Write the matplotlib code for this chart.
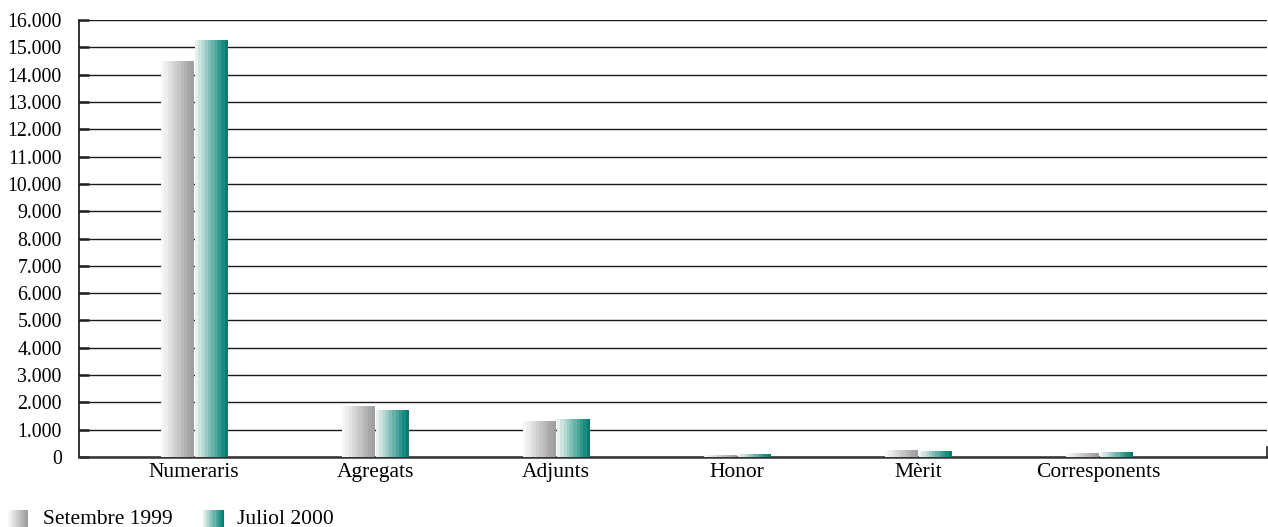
import numpy as np
import matplotlib
matplotlib.use("Agg")
import matplotlib.pyplot as plt
from matplotlib.colors import LinearSegmentedColormap

plt.rcParams['font.family'] = ['Liberation Serif', 'DejaVu Serif']

categories = ['Numeraris', 'Agregats', 'Adjunts', 'Honor', 'Mèrit', 'Corresponents']
setembre_1999 = [14500, 1870, 1320, 90, 255, 150]
juliol_2000 = [15250, 1720, 1390, 110, 220, 180]
series_names = ['Setembre 1999', 'Juliol 2000']
yticks = list(range(0, 16001, 1000))
ytick_labels = ['{:,}'.format(v).replace(',', '.') for v in yticks]

# stepped gradients, light on the left to dark on the right
gray_cmap = LinearSegmentedColormap.from_list('g', ['#f7f7f7', '#9e9e9e'])
teal_cmap = LinearSegmentedColormap.from_list('t', ['#e8f0ee', '#007f72'])
steps = np.linspace(0, 1, 10).reshape(1, -1)

W, H = 1268, 527
fig = plt.figure(figsize=(W / 100, H / 100), dpi=100)
ax = fig.add_axes([79 / W, 1 - 457 / H, (1267 - 79) / W, (457 - 20) / H])

x = np.arange(len(categories))
width = 0.177
off = 0.094


def gradient_bars(xpos, vals, cmap):
    bars = ax.bar(xpos, vals, width, color='none', edgecolor='none', zorder=3)
    for b in bars:
        x0, y0 = b.get_x(), b.get_y()
        im = ax.imshow(steps, cmap=cmap, aspect='auto', interpolation='nearest',
                       extent=(x0, x0 + b.get_width(), y0, y0 + b.get_height()),
                       zorder=3)
        im.set_clip_path(b)


gradient_bars(x - off, setembre_1999, gray_cmap)
gradient_bars(x + off, juliol_2000, teal_cmap)

ax.set_xlim(-0.637, 5.93)
ax.set_ylim(0, 16000)
ax.set_yticks(yticks)
ax.set_yticklabels(ytick_labels, fontsize=14.3)
ax.set_xticks(x)
ax.set_xticklabels(categories, fontsize=15.5)
ax.tick_params(axis='x', length=0, pad=4)
ax.tick_params(axis='y', direction='in', length=7, width=1.8, pad=12.5,
               color='#222222')
ax.yaxis.grid(True, color='#1a1a1a', linewidth=1.0)
ax.set_axisbelow(True)
for s in ['top', 'right']:
    ax.spines[s].set_visible(False)
ax.spines['left'].set_color('#111111')
ax.spines['left'].set_linewidth(1.2)
ax.spines['bottom'].set_color('#333333')
ax.spines['bottom'].set_linewidth(1.8)
ax.plot([1, 1], [0, 0.022], transform=ax.transAxes, color='#222222',
        lw=1.2, clip_on=False, zorder=4)

# legend with gradient swatches
for i, (name, cmap, px, tx) in enumerate(zip(series_names, [gray_cmap, teal_cmap],
                                             [8, 203], [43, 237])):
    sw = fig.add_axes([px / W, 0, 20 / W, 17 / H])
    sw.imshow(steps, cmap=cmap, aspect='auto', interpolation='nearest')
    sw.axis('off')
    fig.text(tx / W, 7 / H, name, fontsize=15.5, va='center', ha='left')

fig.savefig('out.png', dpi=100)
